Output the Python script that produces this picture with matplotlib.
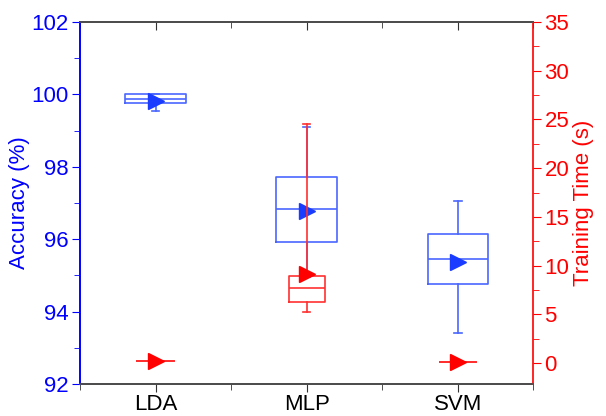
import matplotlib.pyplot as plt
from matplotlib.ticker import MultipleLocator

plt.rcParams['font.family'] = ['Liberation Sans', 'DejaVu Sans']

models = ['LDA', 'MLP', 'SVM']

# accuracy (%) box stats
acc_whislo = [99.54, 94.95, 93.41]
acc_q1 = [99.75, 95.91, 94.76]
acc_med = [99.88, 96.83, 95.45]
acc_q3 = [100.0, 97.73, 96.14]
acc_whishi = [100.0, 99.09, 97.05]
acc_mean = [99.83, 96.78, 95.36]

# training time (s) box stats
t_whislo = [0.25, 5.2, 0.15]
t_q1 = [0.25, 6.26, 0.15]
t_med = [0.25, 7.73, 0.15]
t_q3 = [0.25, 8.93, 0.15]
t_whishi = [0.25, 24.57, 0.15]
t_mean = [0.25, 9.14, 0.15]

blue_line = '#4a66ff'
blue_mark = '#1a3cff'
red_line = '#ff3030'
red_mark = '#ff0000'


def make_stats(lo, q1, med, q3, hi, mean):
    return [dict(whislo=a, q1=b, med=c, q3=d, whishi=e, mean=f, fliers=[])
            for a, b, c, d, e, f in zip(lo, q1, med, q3, hi, mean)]


fig = plt.figure(figsize=(6.06, 4.16), dpi=100)
ax = fig.add_axes([0.132, 0.077, 0.748, 0.870])
ax2 = ax.twinx()

pos = [1, 2, 3]
acc_stats = make_stats(acc_whislo, acc_q1, acc_med, acc_q3, acc_whishi, acc_mean)
ax.bxp(acc_stats, positions=pos, widths=0.4, showmeans=True, showfliers=False,
       boxprops=dict(color=blue_line, lw=1.2),
       medianprops=dict(color=blue_line, lw=1.2),
       whiskerprops=dict(color=blue_line, lw=1.2),
       capprops=dict(color=blue_line, lw=1.2),
       capwidths=0.05,
       meanprops=dict(marker='>', markerfacecolor=blue_mark,
                      markeredgecolor=blue_mark, markersize=12))

t_stats = make_stats(t_whislo, t_q1, t_med, t_q3, t_whishi, t_mean)
ax2.bxp(t_stats, positions=pos, widths=0.24, showmeans=True, showfliers=False,
        boxprops=dict(color=red_line, lw=1.2),
        medianprops=dict(color=red_line, lw=1.2),
        whiskerprops=dict(color=red_line, lw=1.2),
        capprops=dict(color=red_line, lw=1.2),
        capwidths=0.05,
        meanprops=dict(marker='>', markerfacecolor=red_mark,
                       markeredgecolor=red_mark, markersize=12))

ax.set_xlim(0.5, 3.5)
ax.set_xticks(pos)
ax.set_xticklabels(models)
ax.xaxis.set_minor_locator(MultipleLocator(0.5))
ax.set_ylim(92, 102)
ax.yaxis.set_major_locator(MultipleLocator(2))
ax.yaxis.set_minor_locator(MultipleLocator(1))
ax2.set_ylim(-2.15, 35)
ax2.yaxis.set_major_locator(MultipleLocator(5))
ax2.yaxis.set_minor_locator(MultipleLocator(2.5))

ax.set_ylabel('Accuracy (%)', color='blue', fontsize=16, labelpad=1)
ax2.set_ylabel('Training Time (s)', color='red', fontsize=16, labelpad=3)

ax.tick_params(axis='x', which='both', direction='out', labelsize=16,
               top=False, length=6, color='#333333', pad=1)
ax.tick_params(axis='x', which='minor', length=4)
ax.tick_params(axis='y', which='both', colors='blue', labelsize=16, direction='out')
ax.tick_params(axis='y', which='major', length=6, pad=2)
ax.tick_params(axis='y', which='minor', length=4)
ax2.tick_params(axis='y', which='both', colors='red', labelsize=16, direction='out')
ax2.tick_params(axis='y', which='major', length=6, pad=2)
ax2.tick_params(axis='y', which='minor', length=4)

ax2.spines['left'].set_color('blue')
ax2.spines['right'].set_color('red')
ax2.spines['top'].set_color('#555555')
ax2.spines['bottom'].set_color('#555555')
ax.spines['left'].set_color('blue')
ax.spines['right'].set_visible(False)
for a in (ax, ax2):
    for s in a.spines.values():
        s.set_linewidth(1.2)

# top ticks pointing inward
sec = ax.secondary_xaxis('top')
sec.set_xticks(pos)
sec.set_xticklabels([])
sec.xaxis.set_minor_locator(MultipleLocator(0.5))
sec.tick_params(axis='x', which='both', direction='in', color='#333333')
sec.tick_params(axis='x', which='major', length=6)
sec.tick_params(axis='x', which='minor', length=4)
sec.spines['top'].set_visible(False)

fig.savefig('out.png', dpi=100)
